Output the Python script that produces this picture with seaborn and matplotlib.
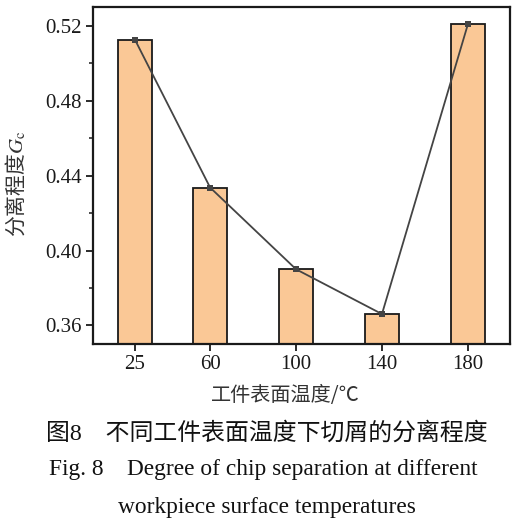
import matplotlib
matplotlib.use("Agg")
import matplotlib.pyplot as plt
import seaborn as sns
import pandas as pd

temperatures = [25, 60, 100, 140, 180]
separation = [0.5125, 0.4336, 0.3900, 0.3661, 0.5207]
y_ticks = [0.36, 0.40, 0.44, 0.48, 0.52]
y_tick_labels = ["0.36", "0.40", "0.44", "0.48", "0.52"]

xlabel = "工件表面温度/℃"
ylabel = "分离程度$G_\\mathrm{c}$"
caption_cn = "图8　不同工件表面温度下切屑的分离程度"
caption_en1 = "Fig. 8　Degree of chip separation at different"
caption_en2 = "workpiece surface temperatures"

df = pd.DataFrame({"temp": temperatures, "gc": separation})

sns.set_theme(style="white")
plt.rcParams["font.family"] = ["Liberation Serif", "Noto Sans CJK SC", "DejaVu Sans"]
plt.rcParams["mathtext.fontset"] = "stix"

fig = plt.figure(figsize=(5.17, 5.29), dpi=100)
ax = fig.add_axes([0.180, 0.350, 0.806, 0.637])

bar_w = 15.8
ax.bar(df["temp"], df["gc"], width=bar_w, color="#FAC896", edgecolor="#1a1a1a",
       linewidth=1.3, zorder=2)
sns.lineplot(data=df, x="temp", y="gc", ax=ax, color="#444444", linewidth=1.3,
             marker="s", markersize=5, markeredgewidth=0, zorder=3)

ax.set_xlim(5.5, 199.5)
ax.set_ylim(0.3502, 0.530)
ax.set_xticks(temperatures)
ax.set_xticklabels([str(t) for t in temperatures])
ax.set_yticks(y_ticks)
ax.set_yticklabels(y_tick_labels)
ax.set_yticks([0.38, 0.42, 0.46, 0.50], minor=True)
ax.tick_params(axis="both", which="major", direction="out", length=5, width=1.3,
               labelsize=15, left=True, bottom=True, colors="#1a1a1a", pad=3)
ax.tick_params(axis="y", which="minor", direction="out", length=3, width=1.1,
               left=True, colors="#1a1a1a")
for s in ax.spines.values():
    s.set_linewidth(1.6)
    s.set_color("#1a1a1a")
ax.set_xlabel("")
ax.set_ylabel("")

fig.text(285 / 517, 1 - 396 / 529, xlabel, ha="center", va="center",
         fontsize=14.5, family=["Noto Sans CJK SC"], color="#333333")
fig.text(16 / 517, 1 - 184 / 529, ylabel, ha="center", va="center", rotation=90,
         fontsize=15, family=["Noto Sans CJK SC"], color="#333333")
fig.text(267 / 517, 1 - 433 / 529, caption_cn, ha="center", va="center",
         fontsize=17.2, family=["Liberation Serif", "Noto Sans CJK SC", "DejaVu Sans"],
         color="#111111")
fig.text(263 / 517, 1 - 470 / 529, caption_en1, ha="center", va="center",
         fontsize=16.8, family=["Liberation Serif", "Noto Sans CJK SC"], color="#111111")
fig.text(267 / 517, 1 - 508 / 529, caption_en2, ha="center", va="center",
         fontsize=16.8, family=["Liberation Serif", "Noto Sans CJK SC"], color="#111111")

fig.savefig("out.png", dpi=100)
